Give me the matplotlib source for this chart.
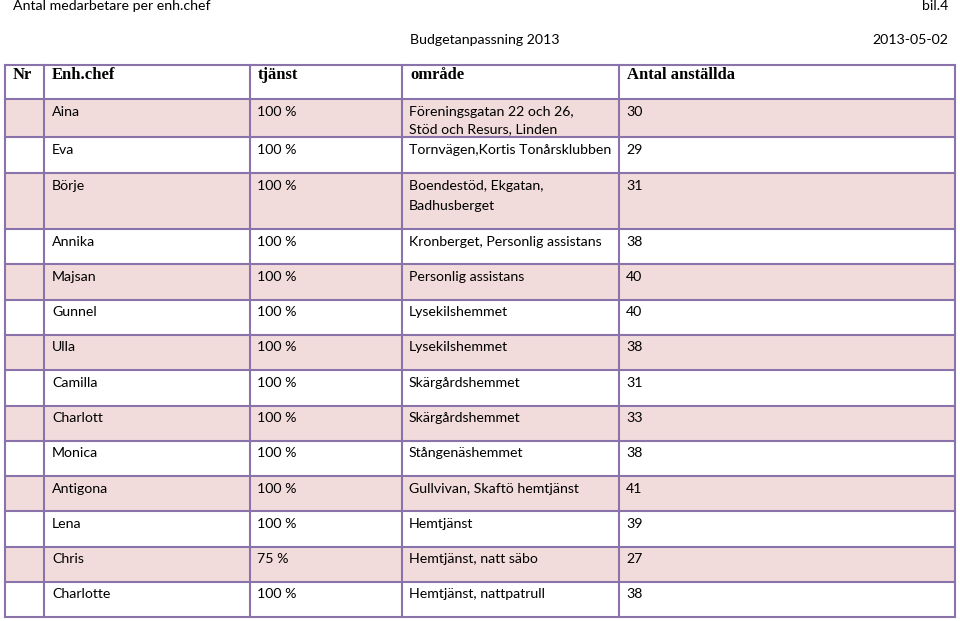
import matplotlib
matplotlib.use("Agg")
import matplotlib.pyplot as plt
from matplotlib.patches import Rectangle

PINK = '#f2dcdb'
BORDER = '#8a72aa'

headers = ['Nr', 'Enh.chef', 'tjänst', 'område', 'Antal anställda']
names = ['Aina', 'Eva', 'Börje', 'Annika', 'Majsan', 'Gunnel', 'Ulla', 'Camilla',
         'Charlott', 'Monica', 'Antigona', 'Lena', 'Chris', 'Charlotte']
tjanst = ['100 %', '100 %', '100 %', '100 %', '100 %', '100 %', '100 %', '100 %',
          '100 %', '100 %', '100 %', '100 %', '75 %', '100 %']
omrade = ['Föreningsgatan 22 och 26,\nStöd och Resurs, Linden',
          'Tornvägen,Kortis Tonårsklubben',
          'Boendestöd, Ekgatan,\nBadhusberget',
          'Kronberget, Personlig assistans',
          'Personlig assistans',
          'Lysekilshemmet',
          'Lysekilshemmet',
          'Skärgårdshemmet',
          'Skärgårdshemmet',
          'Stångenäshemmet',
          'Gullvivan, Skaftö hemtjänst',
          'Hemtjänst',
          'Hemtjänst, natt säbo',
          'Hemtjänst, nattpatrull']
antal = [30, 29, 31, 38, 40, 40, 38, 31, 33, 38, 41, 39, 27, 38]

# layout (pixels)
col_edges = [5, 44, 250, 402, 619, 955]
header_top, header_h = 65, 34
row_h = [38, 36, 56] + [35.3] * 11
line_step = [18, 0, 20] + [0] * 11

fig = plt.figure(figsize=(9.6, 6.21), dpi=100)
ax = fig.add_axes([0, 0, 1, 1])
ax.set_xlim(0, 960)
ax.set_ylim(621, 0)
ax.axis('off')

body = dict(family=['Lato', 'DejaVu Sans'], fontsize=10.2, color='black')
head = dict(family=['Liberation Serif', 'DejaVu Serif'], fontsize=12, fontweight='bold', color='black')

ax.text(13, 6.5, 'Antal medarbetare per enh.chef', va='center', **body)
ax.text(948, 6.5, 'bil.4', ha='right', va='center', **body)
ax.text(410, 40.5, 'Budgetanpassning 2013', va='center', **body)
ax.text(948, 40.5, '2013-05-02', ha='right', va='center', **body)

# header
for j, h in enumerate(headers):
    ax.text(col_edges[j] + 8, header_top + 10, h, va='center', **head)

# rows
tops = [header_top + header_h]
for h in row_h:
    tops.append(tops[-1] + h)
table_bottom = tops[-1]

for i in range(len(names)):
    y0 = tops[i]
    if i % 2 == 0:
        ax.add_patch(Rectangle((col_edges[0], y0), col_edges[-1] - col_edges[0], row_h[i],
                               facecolor=PINK, edgecolor='none', zorder=0))
    ty = y0 + 12.5
    ax.text(col_edges[1] + 8, ty, names[i], va='center', **body)
    ax.text(col_edges[2] + 7, ty, tjanst[i], va='center', **body)
    for k, ln in enumerate(omrade[i].split('\n')):
        ax.text(col_edges[3] + 7, ty + k * line_step[i], ln, va='center', **body)
    ax.text(col_edges[4] + 7, ty, str(antal[i]), va='center', **body)

# grid lines
for y in [header_top] + tops:
    ax.plot([col_edges[0], col_edges[-1]], [y, y], color=BORDER, lw=1.5,
            solid_capstyle='projecting', zorder=2)
for x in col_edges:
    ax.plot([x, x], [header_top, table_bottom], color=BORDER, lw=1.5,
            solid_capstyle='projecting', zorder=2)

fig.savefig('out.png', dpi=100)
